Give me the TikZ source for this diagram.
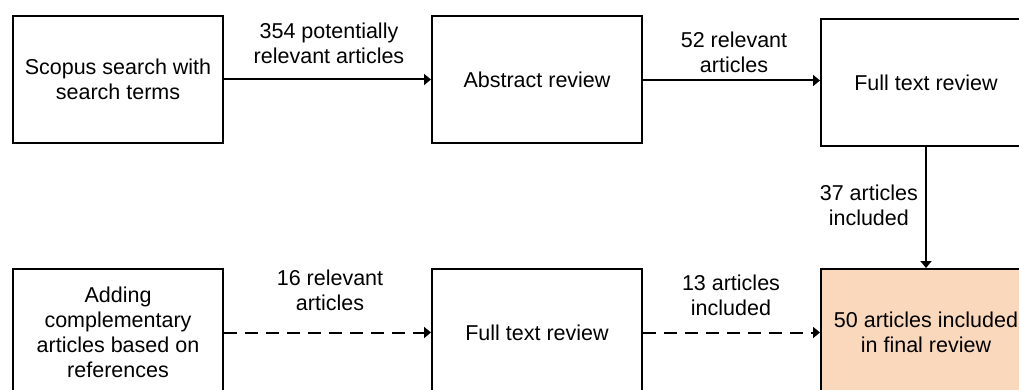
\documentclass[tikz,border=0pt]{standalone}
\usepackage{fontspec}
\setmainfont{Liberation Sans}
\usetikzlibrary{arrows.meta}
\definecolor{finalfill}{HTML}{FAD8BC}
\begin{document}
\begin{tikzpicture}[x=1pt,y=1pt,
  txt/.style={font=\fontsize{21.5}{25}\selectfont, align=center},
  box/.style={txt, draw=black, line width=2pt, minimum width=210pt,
              minimum height=127pt, inner sep=0pt},
  lbl/.style={txt, inner sep=0pt},
  flow/.style={line width=2pt, -{Triangle[length=7pt,width=11pt]}},
  dashflow/.style={flow, dash pattern=on 13pt off 8pt}]
\clip (0,0) rectangle (1019,-390);

% top row
\node[box] (scopus)   at (118,-79.5) {Scopus search with\\search terms};
\node[box] (abstract) at (537,-79.5) {Abstract review};
\node[box] (full1)    at (926,-82.5) {Full text review};

% bottom row
\node[box] (adding) at (118,-332.5) {Adding\\complementary\\articles based on\\references};
\node[box] (full2)  at (537,-332.5) {Full text review};
\node[box, fill=finalfill] (final) at (926,-332.5) {50 articles included\\in final review};

% connectors
\draw[flow] (scopus.east) -- (abstract.west);
\draw[flow] (abstract.east |- 0,-80.5) coordinate (a1) -- (a1 -| full1.west);
\draw[flow] (full1.south) -- (final.north);
\draw[dashflow] (adding.east) -- (full2.west);
\draw[dashflow] (full2.east) -- (final.west);

% connector labels
\node[lbl] (l1) at (329,-43) {354 potentially\\relevant articles};
\node[lbl] (l2) at (734,-52) {52 relevant\\articles};
\node[lbl, anchor=east] (l3) at (918,-205.5) {37 articles\\included};
\node[lbl] (l4) at (330,-290.5) {16 relevant\\articles};
\node[lbl] (l5) at (731,-295) {13 articles\\included};
\end{tikzpicture}
\end{document}
